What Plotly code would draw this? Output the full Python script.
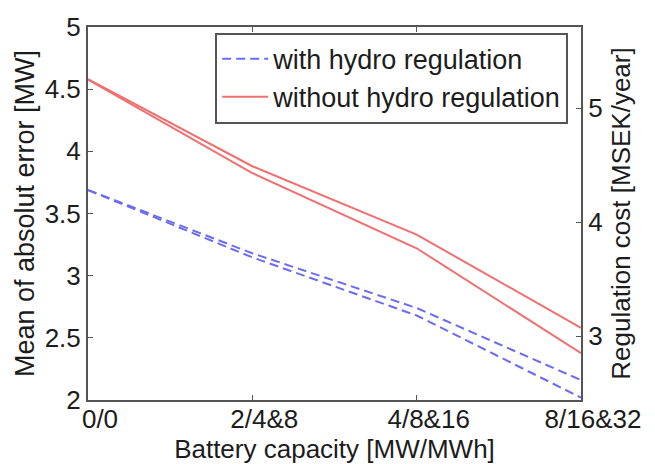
import plotly.graph_objects as go

# Data
categories = ["0/0", "2/4&8", "4/8&16", "8/16&32"]
mae_with_hydro = [3.69, 3.18, 2.74, 2.16]       # left axis [MW]
mae_without_hydro = [4.58, 3.88, 3.33, 2.58]    # left axis [MW]
cost_with_hydro = [4.28, 3.69, 3.18, 2.46]      # right axis [MSEK/year]
cost_without_hydro = [5.25, 4.43, 3.77, 2.85]   # right axis [MSEK/year]
left_ticks = [2, 2.5, 3, 3.5, 4, 4.5, 5]
right_ticks = [3, 4, 5]

BLUE = "#6c6cf2"
RED = "#f07070"
AX = "#555555"
TXT = "#1c1c1c"
FONT = "Arial"

fig = go.Figure()
fig.add_trace(go.Scatter(x=categories, y=mae_with_hydro, mode="lines",
                         name="with hydro regulation",
                         line=dict(color=BLUE, width=2, dash="9px,5px")))
fig.add_trace(go.Scatter(x=categories, y=mae_without_hydro, mode="lines",
                         name="without hydro regulation",
                         line=dict(color=RED, width=2)))
fig.add_trace(go.Scatter(x=categories, y=cost_with_hydro, mode="lines",
                         name="with hydro regulation", showlegend=False, yaxis="y2",
                         line=dict(color=BLUE, width=2, dash="9px,5px")))
fig.add_trace(go.Scatter(x=categories, y=cost_without_hydro, mode="lines",
                         name="without hydro regulation", showlegend=False, yaxis="y2",
                         line=dict(color=RED, width=2)))

fig.update_layout(
    width=655, height=464,
    margin=dict(l=88, r=74, t=27, b=64, autoexpand=False),
    paper_bgcolor="white", plot_bgcolor="white",
    font=dict(family=FONT, size=26, color=TXT),
    showlegend=True,
    legend=dict(x=0.258, y=0.985, xanchor="left", yanchor="top",
                bgcolor="white", bordercolor=AX, borderwidth=2,
                itemwidth=46,
                font=dict(family=FONT, size=27), tracegroupgap=0),
    xaxis=dict(type="category", range=[0, 3], showgrid=False, zeroline=False,
               automargin=False,
               showline=True, linecolor=AX, linewidth=2, mirror="ticks",
               ticks="inside", ticklen=5, tickcolor=AX, tickwidth=1,
               ticklabelshift=12, ticklabelstandoff=-5,
               title=dict(text="Battery capacity [MW/MWh]", standoff=4,
                          font=dict(family=FONT, size=26, color=TXT))),
    yaxis=dict(range=[2, 5], tickvals=left_ticks, showgrid=False, zeroline=False,
               automargin=False,
               showline=True, linecolor=AX, linewidth=2,
               ticks="inside", ticklen=5, tickcolor=AX, tickwidth=1,
               title=dict(text="Mean of absolut error [MW]", standoff=2,
                          font=dict(family=FONT, size=27, color=TXT))),
    yaxis2=dict(overlaying="y", side="right", range=[2.439, 5.711], tickvals=right_ticks,
                showgrid=False, zeroline=False, automargin=False,
                showline=True, linecolor=AX, linewidth=2,
                ticks="inside", ticklen=5, tickcolor=AX, tickwidth=1,
                title=dict(text="Regulation cost [MSEK/year]", standoff=10,
                           font=dict(family=FONT, size=26, color=TXT))),
)

fig.write_html("out.html")
